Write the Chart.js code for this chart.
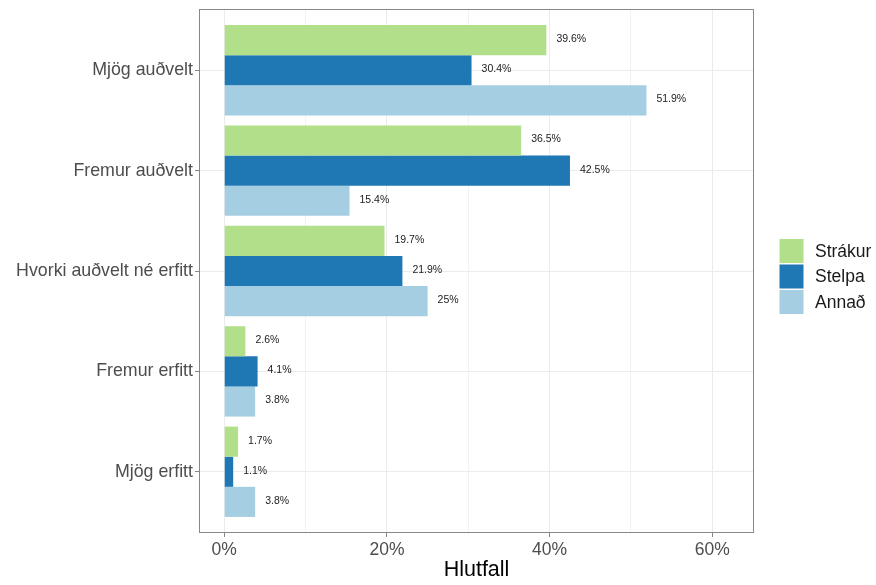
<!DOCTYPE html>
<html>
<head>
<meta charset="utf-8">
<script src="https://cdn.jsdelivr.net/npm/chart.js@4.4.1/dist/chart.umd.min.js"></script>
<style>
  html, body { margin: 0; padding: 0; background: #ffffff; }
  #wrap { width: 876px; height: 585px; }
</style>
</head>
<body>
<div id="wrap"><canvas id="c" width="876" height="585"></canvas></div>
<script>
// ---- Data ----
const categories = ["Mjög auðvelt", "Fremur auðvelt", "Hvorki auðvelt né erfitt", "Fremur erfitt", "Mjög erfitt"];
const seriesNames = ["Strákur", "Stelpa", "Annað"];
const strakur = [39.6, 36.5, 19.7, 2.6, 1.7];
const stelpa  = [30.4, 42.5, 21.9, 4.1, 1.1];
const annad   = [51.9, 15.4, 25, 3.8, 3.8];
const xTickValues = [0, 10, 20, 30, 40, 50, 60];
const xLabeledTicks = [0, 20, 40, 60];
const colors = ["#B2DF8A", "#1F78B4", "#A6CEE3"];

const FONT = "'Liberation Sans', Arial, Helvetica, sans-serif";
const seriesValues = [strakur, stelpa, annad];

const datasets = seriesValues.map((vals, i) => ({
  label: seriesNames[i],
  data: vals.map((v, j) => ({ x: v, y: j + 1 })),
  backgroundColor: colors[i],
  borderWidth: 0,
  categoryPercentage: 0.9,
  barPercentage: 1.0
}));

const valueLabels = {
  id: 'valueLabels',
  afterDatasetsDraw(chart) {
    const ctx = chart.ctx;
    ctx.save();
    ctx.font = "10.5px " + FONT;
    ctx.fillStyle = "#222222";
    ctx.textAlign = "left";
    ctx.textBaseline = "middle";
    chart.data.datasets.forEach((ds, i) => {
      const meta = chart.getDatasetMeta(i);
      meta.data.forEach((el, j) => {
        const v = seriesValues[i][j];
        ctx.fillText(v + "%", el.x + 10, el.y - 1);
      });
    });
    ctx.restore();
  }
};

const panelBorder = {
  id: 'panelBorder',
  afterDatasetsDraw(chart) {
    const a = chart.chartArea;
    const ctx = chart.ctx;
    ctx.save();
    ctx.strokeStyle = "#888888";
    ctx.lineWidth = 1;
    ctx.strokeRect(a.left - 0.5, a.top - 0.5, a.right - a.left + 1, a.bottom - a.top + 1);
    ctx.restore();
  }
};

const customLegend = {
  id: 'customLegend',
  afterDraw(chart) {
    const ctx = chart.ctx;
    ctx.save();
    const x0 = 779.5, y0 = 239, size = 24, step = 25.5;
    ctx.font = "17.5px " + FONT;
    ctx.textAlign = "left";
    ctx.textBaseline = "middle";
    seriesNames.forEach((n, i) => {
      const y = y0 + i * step;
      ctx.fillStyle = colors[i];
      ctx.fillRect(x0, y, size, size);
      ctx.fillStyle = "#1a1a1a";
      ctx.fillText(n, 815, y + size / 2 + 1);
    });
    ctx.restore();
  }
};

new Chart(document.getElementById('c'), {
  type: 'bar',
  data: { datasets },
  options: {
    indexAxis: 'y',
    responsive: false,
    animation: false,
    events: [],
    layout: { padding: { left: 0, right: 123, top: 10, bottom: 0 } },
    plugins: {
      legend: { display: false },
      tooltip: { enabled: false }
    },
    scales: {
      x: {
        type: 'linear',
        min: -2.98,
        max: 65.0,
        offset: false,
        afterBuildTicks: (axis) => { axis.ticks = xTickValues.map(v => ({ value: v })); },
        afterFit: (scale) => { scale.height = 53; scale.paddingLeft = 0; scale.paddingRight = 0; },
        ticks: {
          autoSkip: false,
          maxRotation: 0,
          padding: 3,
          color: "#4D4D4D",
          font: { family: FONT, size: 17.5 },
          callback: (v) => xLabeledTicks.includes(v) ? v + "%" : ""
        },
        grid: {
          offset: false,
          color: (c) => (c.tick && xLabeledTicks.includes(c.tick.value)) ? "#EBEBEB" : "#F2F2F2",
          lineWidth: 1,
          tickLength: 5,
          tickColor: (c) => (c.tick && xLabeledTicks.includes(c.tick.value)) ? "#888888" : "rgba(0,0,0,0)"
        },
        border: { display: false },
        title: {
          display: true,
          text: "Hlutfall",
          color: "#000000",
          font: { family: FONT, size: 21.5 },
          padding: { top: 0, bottom: 2 }
        }
      },
      y: {
        type: 'linear',
        reverse: true,
        min: 0.4,
        max: 5.6,
        offset: false,
        afterBuildTicks: (axis) => { axis.ticks = categories.map((c, i) => ({ value: i + 1 })); },
        afterFit: (scale) => { scale.width = 200; scale.paddingTop = 0; scale.paddingBottom = 0; },
        ticks: {
          autoSkip: false,
          padding: 2,
          color: "#4D4D4D",
          font: { family: FONT, size: 17.8 },
          callback: (v) => categories[v - 1] || ""
        },
        grid: {
          offset: false,
          color: "#EBEBEB",
          lineWidth: 1,
          tickLength: 5,
          tickColor: "#888888"
        },
        border: { display: false }
      }
    }
  },
  plugins: [valueLabels, panelBorder, customLegend]
});
</script>
</body>
</html>
